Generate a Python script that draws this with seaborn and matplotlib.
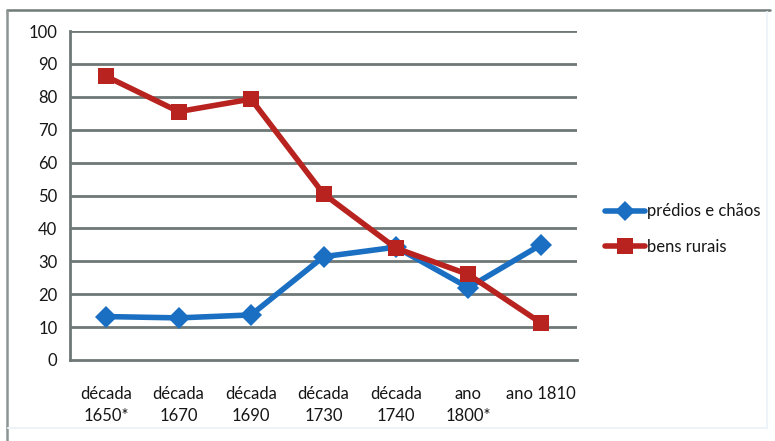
import matplotlib
matplotlib.use("Agg")
import matplotlib.pyplot as plt
import seaborn as sns
import pandas as pd

categories = ["década\n1650*", "década\n1670", "década\n1690", "década\n1730",
              "década\n1740", "ano\n1800*", "ano 1810"]
predios_chaos = [13.2, 12.8, 13.7, 31.4, 34.3, 22.0, 35.0]
bens_rurais = [86.2, 75.5, 79.3, 50.5, 34.0, 26.0, 11.3]
series_names = ["prédios e chãos", "bens rurais"]
y_ticks = [0, 10, 20, 30, 40, 50, 60, 70, 80, 90, 100]

df = pd.DataFrame({
    "pos": list(range(len(categories))) * 2,
    "valor": predios_chaos + bens_rurais,
    "serie": [series_names[0]] * len(categories) + [series_names[1]] * len(categories),
})

sns.set_style("white")
plt.rcParams["font.family"] = ["Lato", "DejaVu Sans"]

blue = "#1b6fc2"
red = "#b8231f"
grid_c = "#6e7876"
text_c = "#161616"

fig = plt.figure(figsize=(7.75, 4.41), dpi=100)
fig.patch.set_facecolor("white")
ax = fig.add_axes([70 / 775, 1 - 360 / 441, (577 - 70) / 775, (360 - 31) / 441])

sns.lineplot(data=df, x="pos", y="valor", hue="serie", style="serie",
             palette={series_names[0]: blue, series_names[1]: red},
             markers={series_names[0]: "D", series_names[1]: "s"},
             dashes=False, linewidth=4, markersize=11, markeredgewidth=0,
             ax=ax, legend=False, zorder=3)

ax.set_xlim(-0.5, len(categories) - 0.5)
ax.set_ylim(0, 100)
ax.set_yticks(y_ticks)
ax.set_yticklabels([str(t) for t in y_ticks])
ax.set_xticks([i - 0.5 for i in range(len(categories) + 1)], minor=False)
ax.set_xticklabels([])
ax.set_xticks(range(len(categories)), minor=True)
ax.set_xticklabels(categories, minor=True, linespacing=1.45)
ax.tick_params(axis="x", which="minor", length=0, pad=19, labelsize=12, labelcolor=text_c)
ax.tick_params(axis="x", which="major", length=5, width=2, color=grid_c, direction="out")
ax.tick_params(axis="y", length=4, width=2, color=grid_c, direction="out", pad=5,
               labelsize=12, labelcolor=text_c)
ax.set_xlabel("")
ax.set_ylabel("")

for y in y_ticks[1:]:
    ax.axhline(y, color=grid_c, linewidth=2, zorder=1)
for side in ["top", "right"]:
    ax.spines[side].set_visible(False)
for side in ["left", "bottom"]:
    ax.spines[side].set_color(grid_c)
    ax.spines[side].set_linewidth(2)
ax.spines["left"].set_zorder(1)

handles = [
    plt.Line2D([], [], color=blue, marker="D", markersize=10, linewidth=4, markeredgewidth=0),
    plt.Line2D([], [], color=red, marker="s", markersize=11, linewidth=4, markeredgewidth=0),
]
leg = fig.legend(handles, series_names, loc="center left",
                 bbox_to_anchor=(590 / 775, 1 - 229 / 441),
                 frameon=False, prop={"size": 12}, handlelength=2.4,
                 handletextpad=0.1, labelspacing=1.15)
for t in leg.get_texts():
    t.set_color(text_c)

# outer frame of the chart area
fig.add_artist(plt.Line2D([7 / 775, 770 / 775], [1 - 10 / 441, 1 - 10 / 441],
                          transform=fig.transFigure, color="#707a78", linewidth=1.8))
fig.add_artist(plt.Line2D([7 / 775, 7 / 775], [1 - 10 / 441, 0],
                          transform=fig.transFigure, color="#8a9492", linewidth=1.8))
fig.add_artist(plt.Line2D([767 / 775, 767 / 775], [1 - 12 / 441, 1 - 428 / 441],
                          transform=fig.transFigure, color="#eef3f7", linewidth=1.5))
fig.add_artist(plt.Line2D([8 / 775, 767 / 775], [1 - 428 / 441, 1 - 428 / 441],
                          transform=fig.transFigure, color="#eef3f7", linewidth=1.5))

fig.savefig("out.png", dpi=100, facecolor="white")
